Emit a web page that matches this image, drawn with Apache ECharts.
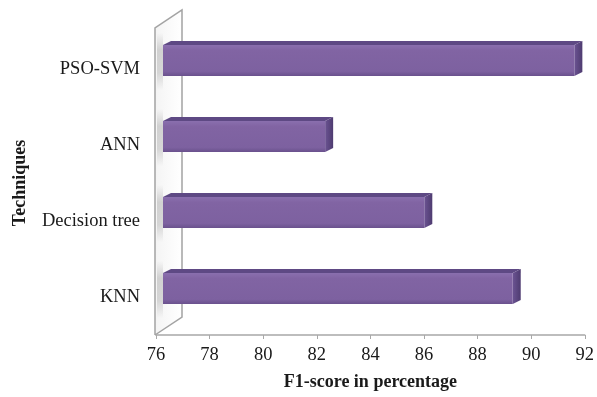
<!DOCTYPE html>
<html>
<head>
<meta charset="utf-8">
<script src="https://cdn.jsdelivr.net/npm/echarts@6/dist/echarts.min.js"></script>
<style>
  html, body { margin: 0; padding: 0; background: #ffffff; }
  #chart { width: 597px; height: 397px; }
</style>
</head>
<body>
<div id="chart"></div>
<script>
// Categories (bottom to top) and their F1-scores
const techniques = ['KNN', 'Decision tree', 'ANN', 'PSO-SVM'];
const f1Scores = [89.2, 85.9, 82.2, 91.5];

// Value axis range and tick step
const axisMin = 76;
const axisMax = 92;
const axisStep = 2;

const SERIF = '"Liberation Serif", "Times New Roman", serif';

// Back wall of the 3D plot area, built from the grid rectangle
function renderWall(params, api) {
  const cs = params.coordSys;
  const fx = cs.x - 1, top = cs.y - 3, bot = cs.y + cs.height;
  const bx = fx + 27, bTop = top - 18, bBot = bot - 18;
  return {
    type: 'group',
    children: [
      {
        type: 'polygon',
        shape: { points: [[fx, top], [bx, bTop], [bx, bBot], [fx, bot]] },
        style: {
          fill: new echarts.graphic.LinearGradient(0, 0, 1, 0, [
            { offset: 0, color: '#f4f4f4' },
            { offset: 1, color: '#ffffff' }
          ])
        }
      },
      {
        type: 'polyline',
        shape: { points: [[fx, bot], [fx, top], [bx, bTop], [bx, bBot], [fx, bot]] },
        style: { stroke: '#a3a3a3', lineWidth: 1.5, fill: null }
      }
    ]
  };
}

// One bevelled 3D bar: soft shadow on the wall, front face, top face, end face
function renderBar(params, api) {
  const cs = params.coordSys;
  const v = api.value(0);
  const cat = api.value(1);
  const start = api.coord([axisMin, cat]);
  const end = api.coord([v, cat]);
  const x0 = start[0] + 7;
  const x1 = end[0] + 3;
  const cy = start[1];
  const y0 = cy - 24;
  const y1 = cy + 7;
  const dx = 8, dy = 4;
  const wx = cs.x + 1;

  return {
    type: 'group',
    children: [
      {
        type: 'rect',
        shape: { x: wx, y: y0 - 12, width: x0 - wx, height: (y1 + 14) - (y0 - 12) },
        style: {
          fill: new echarts.graphic.LinearGradient(0, 0, 0, 1, [
            { offset: 0, color: 'rgba(140,140,140,0)' },
            { offset: 0.3, color: 'rgba(140,140,140,0.35)' },
            { offset: 0.7, color: 'rgba(140,140,140,0.30)' },
            { offset: 1, color: 'rgba(140,140,140,0)' }
          ])
        }
      },
      {
        type: 'polygon',
        shape: { points: [[x0, y0], [x1, y0], [x1 + dx, y0 - dy], [x0 + dx, y0 - dy]] },
        style: { fill: '#5e4984' }
      },
      {
        type: 'polygon',
        shape: { points: [[x1, y0], [x1 + dx, y0 - dy], [x1 + dx, y1 - dy], [x1, y1]] },
        style: {
          fill: new echarts.graphic.LinearGradient(0, 0, 1, 0, [
            { offset: 0, color: '#6b5392' },
            { offset: 1, color: '#4e3b70' }
          ])
        }
      },
      {
        type: 'rect',
        shape: { x: x0, y: y0, width: x1 - x0, height: y1 - y0 },
        style: {
          fill: new echarts.graphic.LinearGradient(0, 0, 0, 1, [
            { offset: 0, color: '#8a6fae' },
            { offset: 0.18, color: '#8164a3' },
            { offset: 0.85, color: '#7d61a0' },
            { offset: 1, color: '#6a518d' }
          ])
        }
      }
    ]
  };
}

const chart = echarts.init(document.getElementById('chart'), null, { renderer: 'canvas' });

chart.setOption({
  backgroundColor: '#ffffff',
  animation: false,
  grid: { left: 156, right: 10, top: 31, bottom: 62, containLabel: false },
  xAxis: {
    type: 'value',
    min: axisMin,
    max: axisMax,
    interval: axisStep,
    name: 'F1-score in percentage',
    nameLocation: 'middle',
    nameGap: 38,
    nameTextStyle: { fontFamily: SERIF, fontSize: 18, fontWeight: 'bold', color: '#1a1a1a' },
    axisLine: { show: true, lineStyle: { color: '#a8a8a8', width: 1.5 } },
    axisTick: { show: true, length: 4, lineStyle: { color: '#a8a8a8' } },
    axisLabel: { fontFamily: SERIF, fontSize: 18.5, color: '#1a1a1a', margin: 11 },
    splitLine: { show: false }
  },
  yAxis: {
    type: 'category',
    data: techniques,
    name: 'Techniques',
    nameLocation: 'middle',
    nameRotate: 90,
    nameGap: 127,
    nameTextStyle: { fontFamily: SERIF, fontSize: 18, fontWeight: 'bold', color: '#1a1a1a' },
    axisLine: { show: false },
    axisTick: { show: false },
    axisLabel: { fontFamily: SERIF, fontSize: 18.5, color: '#1a1a1a', margin: 16 },
    splitLine: { show: false }
  },
  series: [
    {
      type: 'custom',
      name: 'wall',
      silent: true,
      clip: false,
      z: 1,
      renderItem: renderWall,
      encode: { x: 0, y: 1 },
      data: [[axisMin, 0]]
    },
    {
      type: 'custom',
      name: 'F1-score',
      clip: false,
      z: 2,
      renderItem: renderBar,
      encode: { x: 0, y: 1 },
      data: f1Scores.map((v, i) => [v, i])
    }
  ]
});
</script>
</body>
</html>
